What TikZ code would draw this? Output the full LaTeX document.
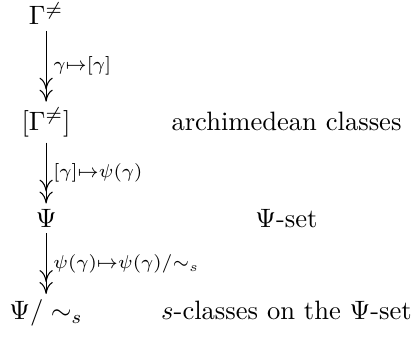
\documentclass[tikz,border=0pt]{standalone}
\usepackage{amsmath,amssymb}
\usepackage{tikz}
\usetikzlibrary{arrows.meta,positioning,calc}

\begin{document}
\begin{tikzpicture}[
    obj/.style={anchor=base, inner sep=2pt},
    desc/.style={anchor=base},
    map/.style={-{To[length=4.5pt,width=5pt]To[length=4.5pt,width=5pt]}, thin},
    lbl/.style={right, inner sep=2.5pt},
]
\useasboundingbox (0,0) rectangle (5.45,-4.56);

\node[obj] (g) at (0.61,-0.33) {$\Gamma^{\neq}$};
\node[obj] (gc) at (0.61,-1.72) {$[\Gamma^{\neq}]$};
\node[obj] (psi) at (0.61,-3.01) {$\Psi$};
\node[obj] (psis) at (0.61,-4.23) {$\Psi/\sim_s$};

\node[desc] (arch) at (3.79,-1.72) {archimedean classes};
\node[desc] (pset) at (3.79,-3.01) {$\Psi$-set};
\node[desc] (scls) at (3.79,-4.23) {$s$-classes on the $\Psi$-set};

\draw[map] (g) -- node[lbl] {$\scriptstyle\gamma\mapsto[\gamma]$} (gc);
\draw[map] (gc) -- node[lbl] {$\scriptstyle[\gamma]\mapsto\psi(\gamma)$} (psi);
\draw[map] (psi) -- node[lbl] {$\scriptstyle\psi(\gamma)\mapsto\psi(\gamma)/\sim_s$} (psis);
\end{tikzpicture}
\end{document}
